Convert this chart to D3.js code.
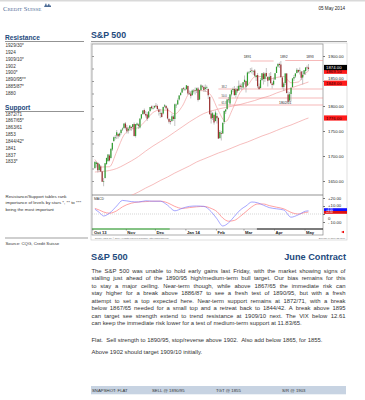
<!DOCTYPE html>
<html>
<head>
<meta charset="utf-8">
<script src="https://cdn.jsdelivr.net/npm/d3@7"></script>
<style>
  body { margin: 0; background: #fff; }
  svg { display: block; font-family: "Liberation Sans", Arial, sans-serif; }
</style>
</head>
<body>
<div id="page"></div>
<script>
"use strict";

// ---- data ----
var monthLabels = ["Oct 13", "Nov", "Dec", "Jan 14", "Feb", "Mar", "Apr", "May"];
var monthStarts = [0, 23, 43, 64, 85, 104, 125, 146];

// daily candles, Oct 1 2013 .. May 2 2014 (trading days)
var opens = [
  1676,1684,1686,1672,1679,1669,1649,1656,1684,1690,1701,1696,1713,1730,1737,1741,1744,1741,1746,1753,1756,1765,1757,
  1751,1755,1758,1758,1764,1740,1762,1763,1757,1775,1784,1792,1784,1783,1777,1790,1799,1796,1797,1801,
  1800,1793,1786,1786,1785,1799,1800,1795,1774,1770,1770,1779,1774,1802,1803,1813,1822,1827,1836,1834,1834,
  1840,1825,1825,1822,1830,1832,1831,1835,1813,1832,1840,1838,1834,1838,1834,1818,1785,1776,1782,1770,1780,
  1776,1736,1746,1745,1768,1789,1794,1813,1805,1823,1832,1834,1822,1834,1831,1841,1839,1837,1848,
  1850,1841,1867,1868,1872,1870,1871,1858,1862,1839,1836,1852,1865,1854,1866,1858,1852,1860,1845,1843,1853,
  1866,1879,1884,1883,1857,1838,1846,1865,1823,1811,1824,1838,1855,1859,1866,1872,1871,1869,1857,1864,1870,
  1877,1877
];
var highs = [
  1690,1689,1688,1685,1682,1670,1656,1686,1697,1704,1704,1715,1727,1739,1742,1752,1746,1747,1753,1757,1765,1768,1762,
  1758,1761,1760,1764,1767,1764,1767,1765,1775,1784,1792,1795,1790,1788,1790,1798,1801,1801,1801,1806,
  1803,1795,1794,1789,1799,1804,1802,1797,1776,1774,1785,1782,1805,1805,1815,1822,1827,1836,1838,1837,1842,
  1841,1831,1830,1833,1834,1837,1837,1838,1833,1844,1842,1841,1843,1841,1835,1819,1791,1788,1784,1791,1786,
  1778,1752,1750,1767,1791,1794,1814,1818,1824,1833,1837,1840,1836,1840,1851,1845,1845,1848,1861,
  1851,1869,1870,1876,1877,1872,1874,1862,1866,1845,1856,1866,1868,1867,1876,1860,1866,1868,1848,1857,1866,
  1879,1886,1887,1890,1859,1848,1866,1866,1829,1828,1838,1856,1862,1866,1876,1873,1877,1870,1870,1872,1878,
  1881,1884
];
var lows = [
  1674,1677,1667,1669,1668,1648,1639.5,1655,1682,1688,1689,1695,1710,1728,1733,1734,1735,1738,1743,1750,1754,1753,1745,
  1745,1751,1750,1755,1739,1737,1760,1754,1755,1773,1782,1783,1777,1770,1775,1788,1793,1793,1795,1797,
  1792,1781,1776,1777,1783,1797,1793,1773,1765,1763,1768,1770,1760,1796,1803,1811,1820,1826,1831,1830,1832,
  1822,1822,1815,1820,1825,1823,1826,1809,1812,1830,1835,1828,1828,1832,1814,1783,1765,1772,1763,1769,1765,
  1734,1734,1731,1744,1764,1784,1792,1807,1801,1819,1828,1820,1817,1826,1830,1834,1832,1835,1843,
  1827,1840,1864,1867,1865,1862,1858,1850,1836,1832,1835,1850,1843,1848,1858,1839,1850,1845,1835,1841,1852,
  1866,1877,1876,1856,1835,1830,1842,1825,1807,1808,1809,1837,1850,1856,1865,1866,1863,1852,1843,1862,1862,
  1871,1870
];
var closes = [
  1688,1687,1671.5,1683.5,1669,1648.5,1649.5,1685.5,1696,1703,1691,1714.5,1726,1737.5,1737.5,1747.5,1739.5,1745,1752.5,1755,1765,1756.5,1749.5,
  1754.5,1761,1756,1763.5,1740,1763.5,1765,1760.5,1775,1783.5,1791,1784.5,1781,1774.5,1789,1798,1795.5,1796,1800,1799,
  1794,1788,1786,1778,1798,1801.5,1795.5,1775,1768.5,1768.5,1779.5,1774,1803.5,1802.5,1811.5,1821,1826.5,1835,1834.5,1834,1841.5,
  1825,1824.5,1820,1831,1830.5,1831,1835.5,1812,1832,1841.5,1839,1832,1837,1838,1821.5,1783.5,1775,1785.5,1767,1787,1775.5,
  1735,1748,1744.5,1766.5,1790,1793,1813,1812.5,1823,1831.5,1834,1822,1833,1829.5,1840.5,1838,1838,1847.5,1852.5,
  1838.5,1867,1867,1870,1871,1870,1860.5,1861,1839.5,1834,1852,1865.5,1854,1865,1859.5,1850.5,1858.5,1845.5,1842,1850.5,1865.5,
  1878.5,1884,1882,1858,1838,1845,1865,1826,1808.5,1823.5,1836,1855,1858,1865,1872.5,1868.5,1871.5,1856.5,1862.5,1871.5,1877,
  1876.5,1874
];

// moving averages, read every fifth session
var maIdx   = [0,5,10,15,20,25,30,35,40,45,50,55,60,65,70,75,80,85,90,95,100,105,110,115,120,125,130,135,140,145,147];
var shortMA = [1693,1678,1678.5,1709,1742,1753.5,1757,1771,1787,1792,1791.5,1784,1799,1825.5,1831,1830.5,1821,1790.5,1769,1795.5,1827.5,1840.5,1858,1859,1854,1857,1859,1846.5,1848,1866,1869.5];
var medMA   = [1668,1669,1671,1675,1682,1690,1699,1710,1720,1729,1738,1748,1758,1768,1777,1785,1790,1794,1797,1800,1803,1807,1811,1816,1820,1826,1831,1836,1841,1846,1848];
var longMA  = [1584,1591,1599,1606,1613,1621,1628,1636,1643,1651,1658,1666,1673,1680,1688,1694,1700,1706,1711,1717,1723,1728,1734,1740,1745,1751,1757,1762,1768,1774,1776];

// MACD pane
var macdIdx   = [0,3,6,10,15,19,25,30,35,40,45,50,55,60,65,70,75,80,84,88,92,96,100,104,108,112,116,120,125,130,135,140,145,147];
var macdLine  = [6,2,-2.5,1,10,17,15.5,15,16.5,16,16,11,4,7,9.5,10,9.5,3,-6,-15,-11,-3,5,10,15,14,11,8,6.5,5,-4,-1,3.5,4];
var macdSignal= [7,5,2.5,1,4,9,13.5,15,15.5,16,16,14,9.5,7,8,9,9.5,7,3,-5,-9,-8,-3,3,9,12.5,12.5,10.5,8.5,6.5,2,0,2,2.5];
var macdTicks = [20, 10, 0, -10];

// annotations
var priceTicks = [1650, 1700, 1750, 1800, 1850, 1900];
var peakLabels = ["1891", "1892", "1893"];
var peakIdx    = [105, 130, 148];
var peakLevel  = [1891, 1891, 1891];
var resLevels = [1890, 1891];
var resFrom   = [107, 131];
var resTo     = [123, 157];
var fibLevels = [1834, 1816, 1802];
var fibLabels = ["38.2", "50.0", "61.8"];
var fibFrom   = 85;

var resistance = ["1929/30*", "1924", "1909/10*", "1902", "1900*", "1890/95**", "1885/87*", "1880"];
var support    = ["1872/71", "1867/65*", "1863/61", "1853", "1844/42*", "1841", "1837", "1833*"];

var paragraph = [
  "The S&P 500 was unable to hold early gains last Friday, with the market showing signs of",
  "stalling just ahead of the 1890/95 high/medium-term bull target.  Our bias remains for this",
  "to stay a major ceiling.  Near-term though, while above 1867/65 the immediate risk can",
  "stay higher for a break above 1886/87 to see a fresh test of 1890/95, but with a fresh",
  "attempt to set a top expected here.  Near-term support remains at 1872/71, with a break",
  "below 1867/65 needed for a small top and a retreat back to 1844/42.  A break above 1895",
  "can target see strength extend to trend resistance at 1909/10 next.  The VIX below 12.61",
  "can keep the immediate risk lower for a test of medium-term support at 11.83/65."
];
var extraLines = [
  "Flat.  Sell strength to 1890/95, stop/reverse above 1902.  Also add below 1865, for 1855.",
  "Above 1902 should target 1909/10 initially."
];
var snapshot = ["SNAPSHOT: FLAT", "SELL @ 1890/95", "TGT @ 1855", "S/R @ 1903"];
var snapshotX = [92, 152, 216, 282];

// ---- drawing ----
var BLUE = "#1e4a7d";
var TEXT = "#333";
var svg = d3.select("#page").append("svg")
    .attr("width", 365)
    .attr("height", 400);

// top strip + header
svg.append("rect").attr("x", 0).attr("y", 0).attr("width", 365).attr("height", 1.5).attr("fill", "#d9d9d9");
svg.append("text").attr("x", 3).attr("y", 10.5)
    .attr("font-size", 6.6).attr("fill", "#4d6c96")
    .style("font-variant", "small-caps").style("font-family", "Liberation Serif, serif")
    .text("Credit Suisse");
svg.append("path").attr("d", "M44,7 L46,3 L47,6 L49,3.5 L50,6 L51,5 L51,7 Z").attr("fill", "#4d6c96");
svg.append("text").attr("x", 345).attr("y", 10).attr("text-anchor", "end")
    .attr("font-size", 4.6).attr("fill", "#222").text("05 May 2014");

// left column
function sideBlock(title, items, titleY, itemY0) {
  svg.append("text").attr("x", 5).attr("y", titleY)
      .attr("font-size", 6.6).attr("font-weight", "bold").attr("fill", BLUE).text(title);
  svg.append("line").attr("x1", 5).attr("x2", 84).attr("y1", titleY + 2).attr("y2", titleY + 2)
      .attr("stroke", "#777").attr("stroke-width", 0.8);
  svg.append("g").selectAll("text").data(items).enter().append("text")
      .attr("x", 5.5)
      .attr("y", function(d, i) { return itemY0 + i * 6.85; })
      .attr("font-size", 4.6).attr("fill", TEXT)
      .text(function(d) { return d; });
}
sideBlock("Resistance", resistance, 39.5, 47);
sideBlock("Support", support, 109.5, 115.5);

var notes = ["Resistance/Support tables rank", "importance of levels by stars *, ** to ***", "being the most important"];
svg.append("g").selectAll("text").data(notes).enter().append("text")
    .attr("x", 5.5).attr("y", function(d, i) { return 197.5 + i * 6.7; })
    .attr("font-size", 4.4).attr("fill", TEXT).text(function(d) { return d; });
svg.append("line").attr("x1", 5).attr("x2", 88).attr("y1", 238).attr("y2", 238)
    .attr("stroke", "#777").attr("stroke-width", 0.7);
svg.append("text").attr("x", 5.5).attr("y", 244.5).attr("font-size", 4.3).attr("fill", TEXT)
    .text("Source: CQG, Credit Suisse");

// chart title
svg.append("text").attr("x", 91).attr("y", 38).attr("font-size", 8.8).attr("font-weight", "bold")
    .attr("fill", BLUE).text("S&P 500");
svg.append("line").attr("x1", 91).attr("x2", 347).attr("y1", 41.5).attr("y2", 41.5)
    .attr("stroke", "#888").attr("stroke-width", 0.8);

// chart frame
var plotL = 92, plotR = 323, priceT = 44, priceB = 195, macdB = 229, dateB = 235;
svg.append("rect").attr("x", 91).attr("y", 43).attr("width", 256).attr("height", 197)
    .attr("fill", "#fff").attr("stroke", "#c8c8c8").attr("stroke-width", 0.6);
svg.append("rect").attr("x", plotL).attr("y", priceT).attr("width", plotR - plotL).attr("height", dateB - priceT)
    .attr("fill", "#fff").attr("stroke", "#8a8a8a").attr("stroke-width", 0.7);
svg.append("line").attr("x1", plotL).attr("x2", plotR).attr("y1", priceB).attr("y2", priceB)
    .attr("stroke", "#666").attr("stroke-width", 0.7);
svg.append("line").attr("x1", plotL).attr("x2", plotR).attr("y1", macdB).attr("y2", macdB)
    .attr("stroke", "#888").attr("stroke-width", 0.7);

var N = closes.length;
var x = d3.scaleLinear().domain([-2, 157]).range([plotL, plotR]);
var y = d3.scaleLinear().domain([1650, 1900]).range([181, 56]);
var ym = d3.scaleLinear().domain([-20, 20]).range([230, 198]);

svg.append("clipPath").attr("id", "priceClip").append("rect")
    .attr("x", plotL).attr("y", priceT).attr("width", plotR - plotL).attr("height", priceB - priceT);
svg.append("clipPath").attr("id", "macdClip").append("rect")
    .attr("x", plotL).attr("y", priceB).attr("width", plotR - plotL).attr("height", macdB - priceB);

// inner ticks on the left
svg.append("g").attr("transform", "translate(" + plotL + ",0)")
    .call(d3.axisRight(y).tickValues(d3.range(1650, 1925, 25)).tickSize(2).tickFormat(""))
    .call(function(g) { g.select(".domain").remove(); g.selectAll("line").attr("stroke", "#999"); });

// right price axis; the 1850 label peeks out just above the medium-MA box
svg.append("g").attr("transform", "translate(" + plotR + ",0)")
    .call(d3.axisRight(y).tickValues(priceTicks).tickSize(2).tickPadding(3)
        .tickFormat(function(d) { return d.toFixed(2); }))
    .call(function(g) {
      g.select(".domain").remove();
      g.selectAll("line").attr("stroke", "#777");
      g.selectAll("text").attr("font-size", 4.3).attr("fill", "#222").attr("font-family", null);
      g.selectAll(".tick").filter(function(d) { return d === 1850; }).select("text").attr("dy", "-0.35em");
    });

var price = svg.append("g").attr("clip-path", "url(#priceClip)");

// moving averages
function maLine(values) {
  return d3.line()
      .x(function(d, i) { return x(maIdx[i]); })
      .y(function(d) { return y(d); })
      .curve(d3.curveMonotoneX)(values);
}
[longMA, medMA, shortMA].forEach(function(s) {
  price.append("path").attr("d", maLine(s)).attr("fill", "none")
      .attr("stroke", "#f2a0a0").attr("stroke-width", 0.7);
});

// resistance + retracement lines
resLevels.forEach(function(v, i) {
  price.append("line").attr("x1", x(resFrom[i])).attr("x2", x(resTo[i]))
      .attr("y1", y(v)).attr("y2", y(v)).attr("stroke", "#f08a8a").attr("stroke-width", 0.6);
});
fibLevels.forEach(function(v, i) {
  price.append("line").attr("x1", x(fibFrom)).attr("x2", plotR)
      .attr("y1", y(v)).attr("y2", y(v)).attr("stroke", "#f08a8a").attr("stroke-width", 0.6);
  price.append("text").attr("x", x(fibFrom) + 3).attr("y", y(v) - 0.6)
      .attr("font-size", 2.8).attr("fill", "#444").text(fibLabels[i]);
});
price.append("text").attr("x", x(131)).attr("y", y(1802) - 1.2).attr("text-anchor", "middle")
    .attr("font-size", 3.4).attr("fill", "#222").text("1802/01");
peakLabels.forEach(function(t, i) {
  price.append("text").attr("x", x(peakIdx[i])).attr("y", y(peakLevel[i]) - 3)
      .attr("text-anchor", "middle").attr("font-size", 3.4).attr("fill", "#222").text(t);
});

// candles
var idx = d3.range(N);
price.append("g").selectAll("line").data(idx).enter().append("line")
    .attr("x1", function(i) { return x(i); }).attr("x2", function(i) { return x(i); })
    .attr("y1", function(i) { return y(highs[i]); }).attr("y2", function(i) { return y(lows[i]); })
    .attr("stroke", "#9a9a9a").attr("stroke-width", 0.6);
price.append("g").selectAll("rect").data(idx).enter().append("rect")
    .attr("x", function(i) { return x(i) - 0.6; })
    .attr("width", 1.2)
    .attr("y", function(i) { return y(Math.max(opens[i], closes[i])); })
    .attr("height", function(i) { return Math.max(0.6, Math.abs(y(opens[i]) - y(closes[i]))); })
    .attr("fill", function(i) { return closes[i] >= opens[i] ? "#2e9e2e" : "#9b2f2f"; });

// right value boxes
function valueBox(yy, label, fill, color) {
  svg.append("rect").attr("x", plotR + 1).attr("y", yy - 2.6).attr("width", 23).attr("height", 5.2).attr("fill", fill);
  svg.append("text").attr("x", plotR + 3).attr("y", yy + 1.5).attr("font-size", 4.3).attr("fill", color).text(label);
}
valueBox(y(longMA[longMA.length - 1]), longMA[longMA.length - 1].toFixed(2), "#ff1a1a", "#300");
valueBox(y(medMA[medMA.length - 1]) + 1.2, medMA[medMA.length - 1].toFixed(2), "#ff1a1a", "#300");
valueBox(y(shortMA[shortMA.length - 1]), shortMA[shortMA.length - 1].toFixed(2), "#ff1a1a", "#300");
valueBox(y(closes[N - 1]) - 1.5, closes[N - 1].toFixed(2), "#000", "#fff");

// MACD pane
svg.append("text").attr("x", plotL + 2).attr("y", priceB + 4.5).attr("font-size", 3.4).attr("fill", "#333").text("MACD");
var macd = svg.append("g").attr("clip-path", "url(#macdClip)");
macd.append("line").attr("x1", plotL).attr("x2", plotR).attr("y1", ym(0)).attr("y2", ym(0))
    .attr("stroke", "#aaa").attr("stroke-width", 0.5).attr("stroke-dasharray", "1,1");
var macdPath = d3.line()
    .x(function(d, i) { return x(macdIdx[i]); })
    .y(function(d) { return ym(d); })
    .curve(d3.curveMonotoneX);
macd.append("path").attr("d", macdPath(macdSignal)).attr("fill", "none").attr("stroke", "#ff7a7a").attr("stroke-width", 0.7);
macd.append("path").attr("d", macdPath(macdLine)).attr("fill", "none").attr("stroke", "#8080ff").attr("stroke-width", 0.7);

svg.append("g").attr("transform", "translate(" + plotR + ",0)")
    .call(d3.axisRight(ym).tickValues(macdTicks).tickSize(2).tickPadding(3)
        .tickFormat(function(d) { return d > 0 ? "+" + d.toFixed(2) : (d < 0 ? "- " + Math.abs(d).toFixed(2) : "0"); }))
    .call(function(g) {
      g.select(".domain").remove();
      g.selectAll("line").attr("stroke", "#777");
      g.selectAll("text").attr("font-size", 4.3).attr("fill", "#222").attr("font-family", null);
      g.selectAll(".tick").filter(function(d) { return d === 0; }).select("text").attr("dy", "1.3em");
      g.selectAll(".tick").filter(function(d) { return d === 10; }).select("text").attr("dy", "0.1em");
    });
// current MACD / signal readouts, stacked just above the zero line
function macdBox(yy, v, fill) {
  svg.append("rect").attr("x", plotR + 1).attr("y", yy - 1.4).attr("width", 23).attr("height", 2.8).attr("fill", fill);
  svg.append("text").attr("x", plotR + 3).attr("y", yy + 1).attr("font-size", 2.7).attr("fill", "#fff")
      .text("+" + v.toFixed(2));
}
macdBox(ym(0) - 4.4, macdLine[macdLine.length - 1], "#1010ff");
macdBox(ym(0) - 1.6, macdSignal[macdSignal.length - 1], "#e01010");
svg.append("path").attr("d", "M341,232 L344,230.8 L344,233.2 Z").attr("fill", "#e00");

// date band
svg.append("line").attr("x1", x(0) - 3).attr("x2", x(51.5)).attr("y1", macdB).attr("y2", macdB)
    .attr("stroke", "#35b035").attr("stroke-width", 1);
svg.append("line").attr("x1", x(111.5)).attr("x2", plotR).attr("y1", macdB).attr("y2", macdB)
    .attr("stroke", "#222").attr("stroke-width", 1);
svg.append("g").selectAll("text").data(monthLabels).enter().append("text")
    .attr("x", function(d, i) { return x(monthStarts[i]) - 1; })
    .attr("y", 233.6)
    .attr("font-size", 4.2).attr("font-weight", "bold").attr("fill", "#222")
    .text(function(d) { return d; });
svg.append("g").selectAll("line").data(monthStarts).enter().append("line")
    .attr("x1", function(d) { return x(d) - 2; }).attr("x2", function(d) { return x(d) - 2; })
    .attr("y1", macdB).attr("y2", macdB + 1.5).attr("stroke", "#555").attr("stroke-width", 0.5);
svg.append("text").attr("x", 95).attr("y", 238.5).attr("font-size", 2.2).attr("fill", "#666")
    .text("Source: CQG Inc. \u00a9 2014 All rights reserved worldwide. http://www.cqg.com");
svg.append("text").attr("x", 345).attr("y", 238.5).attr("text-anchor", "end").attr("font-size", 2.2).attr("fill", "#666")
    .text("Sun May 04 2014 22:45:00");

// commentary
svg.append("text").attr("x", 91).attr("y", 260).attr("font-size", 9.2).attr("font-weight", "bold")
    .attr("fill", BLUE).text("S&P 500");
svg.append("text").attr("x", 346).attr("y", 260).attr("text-anchor", "end").attr("font-size", 9.2)
    .attr("font-weight", "bold").attr("fill", BLUE).text("June Contract");

var BODY_SIZE = 5.9, LEFT = 91.5, RIGHT = 345.5;
function measure(word) {
  var t = svg.append("text").attr("font-size", BODY_SIZE).text(word);
  var w = t.node().getComputedTextLength();
  t.remove();
  return w;
}
var spaceW = measure("a b") - measure("ab");
paragraph.forEach(function(line, li) {
  var yy = 272.5 + li * 7.52;
  var words = line.split(/ +/);
  var last = li === paragraph.length - 1;
  var widths = words.map(measure);
  var total = d3.sum(widths);
  var gap = last ? spaceW : (RIGHT - LEFT - total) / (words.length - 1);
  var xx = LEFT;
  words.forEach(function(w, wi) {
    svg.append("text").attr("x", xx).attr("y", yy).attr("font-size", BODY_SIZE).attr("fill", TEXT).text(w);
    xx += widths[wi] + gap;
  });
});
extraLines.forEach(function(line, i) {
  svg.append("text").attr("x", LEFT).attr("y", 341.8 + i * 12.2).attr("font-size", BODY_SIZE)
      .attr("fill", TEXT).attr("xml:space", "preserve").style("white-space", "pre").text(line);
});

// snapshot bar
svg.append("rect").attr("x", 91).attr("y", 386).attr("width", 255).attr("height", 8.3).attr("fill", "#c7d3e2");
svg.append("g").selectAll("text").data(snapshot).enter().append("text")
    .attr("x", function(d, i) { return snapshotX[i]; }).attr("y", 391.7)
    .attr("font-size", 4.3).attr("fill", "#333").text(function(d) { return d; });
</script>
</body>
</html>
